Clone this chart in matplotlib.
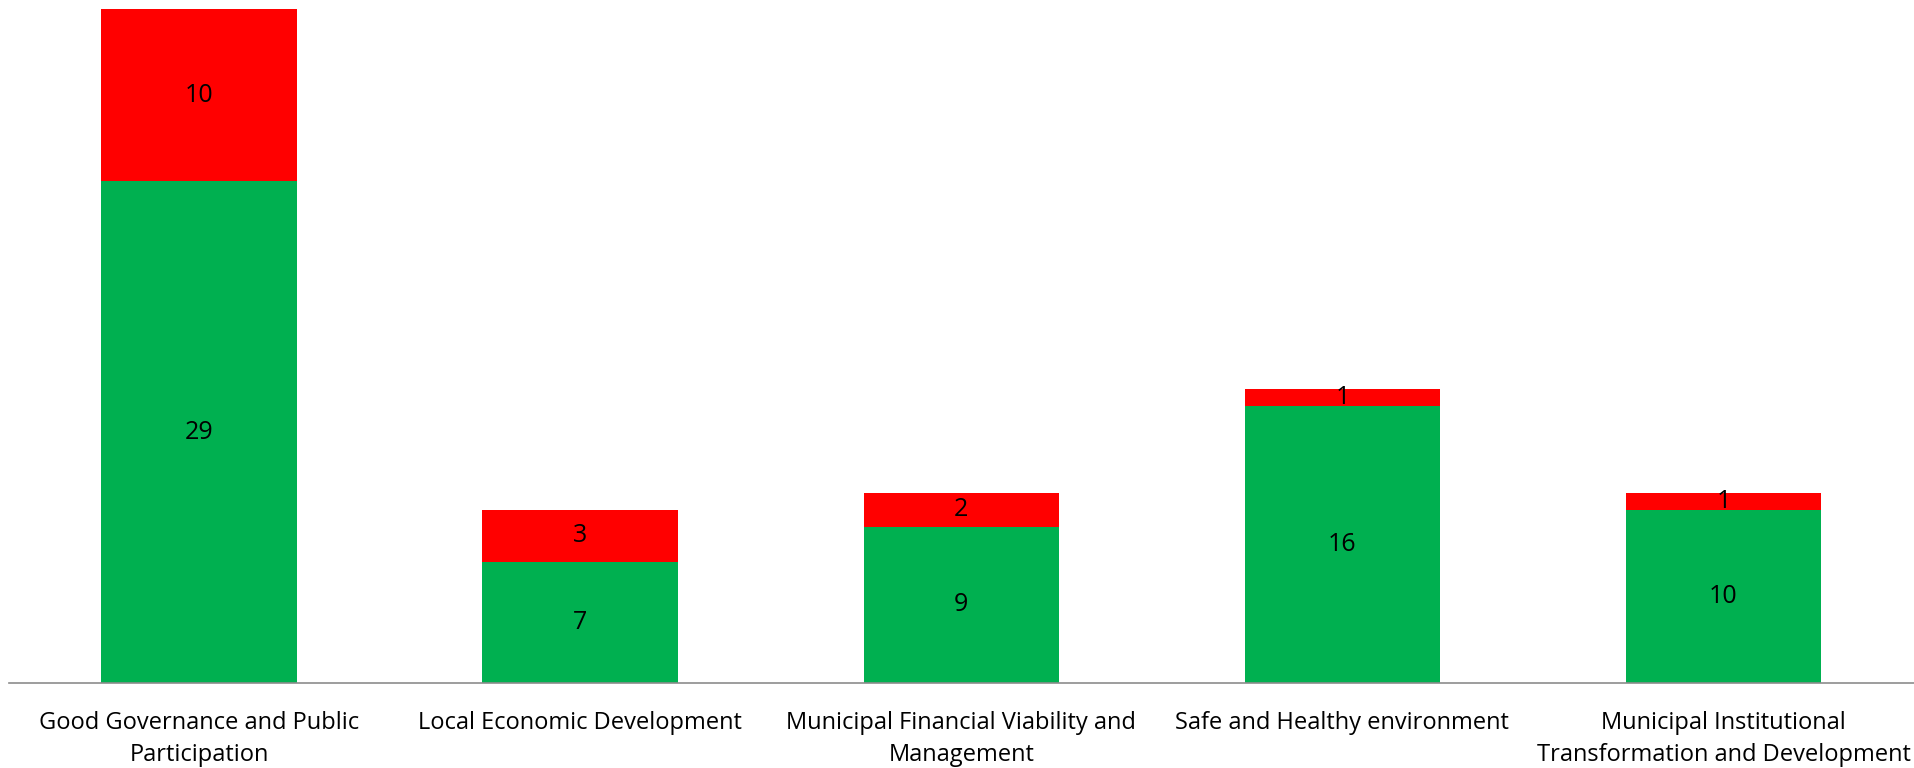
import numpy as np
import matplotlib.pyplot as plt

plt.rcParams['font.family'] = ['Open Sans', 'DejaVu Sans']

categories = ["Good Governance and Public\nParticipation",
              "Local Economic Development",
              "Municipal Financial Viability and\nManagement",
              "Safe and Healthy environment",
              "Municipal Institutional\nTransformation and Development"]
achieved = [29, 7, 9, 16, 10]
not_achieved = [10, 3, 2, 1, 1]

green = "#00B050"
red = "#FF0000"

fig = plt.figure(figsize=(19.15, 7.68), dpi=100)
ax = fig.add_axes([0.0045, 0.111, 0.995, 0.889])

x = np.arange(len(categories))
w = 0.513
b1 = ax.bar(x, achieved, width=w, color=green)
b2 = ax.bar(x, not_achieved, width=w, bottom=achieved, color=red)

ax.bar_label(b1, labels=[str(v) for v in achieved], label_type='center', fontsize=18)
ax.bar_label(b2, labels=[str(v) for v in not_achieved], label_type='center', fontsize=18)

ax.set_xlim(-0.5, len(categories) - 0.5)
ax.set_ylim(0, 39.5)
ax.set_yticks([])
ax.set_xticks(x)
ax.set_xticklabels(categories, fontsize=17, linespacing=1.45)
ax.tick_params(axis='x', length=0, pad=20)
for s in ['top', 'right', 'left']:
    ax.spines[s].set_visible(False)
ax.spines['bottom'].set_color("#8C8C8C")
ax.spines['bottom'].set_linewidth(1.2)

fig.savefig("out.png", dpi=100)
